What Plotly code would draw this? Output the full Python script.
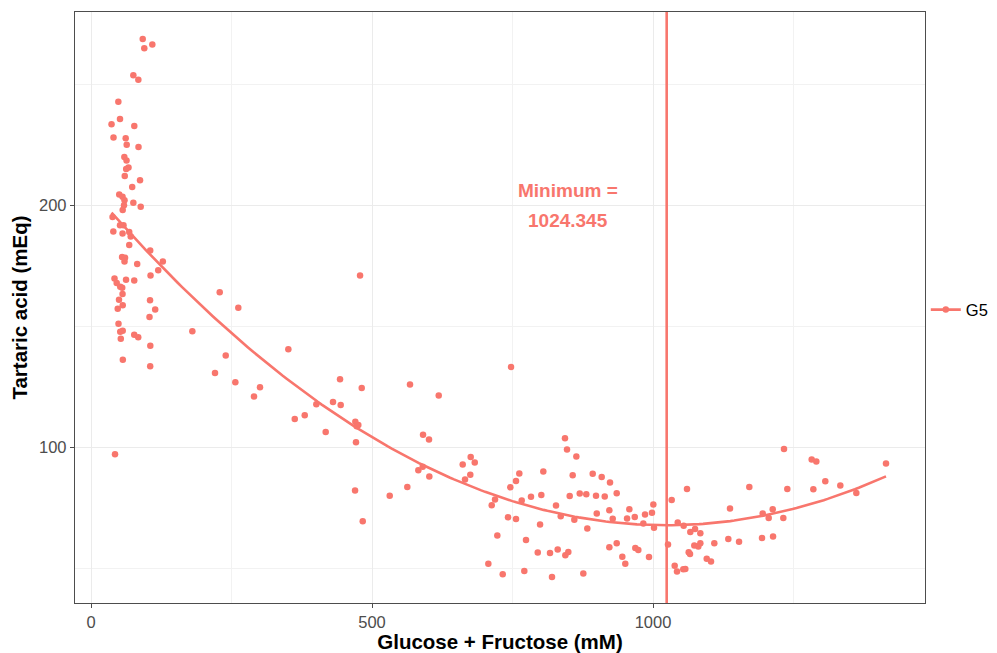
import numpy as np
import plotly.graph_objects as go

# sugar (glucose + fructose, mM) vs tartaric acid (mEq), group G5
sugar = [
    92.0, 109.1, 94.8, 75.3, 84.2, 48.6, 51.6, 36.5, 77.0, 40.0,
    61.7, 63.5, 84.5, 59.3, 63.2, 66.7, 62.6, 60.0, 87.2, 73.3,
    50.2, 56.1, 59.6, 75.3, 88.4, 58.7, 56.4, 38.3, 51.6, 57.8,
    39.7, 56.1, 68.0, 70.6, 68.0, 105.3, 55.2, 60.5, 59.6, 82.2,
    127.8, 119.6, 105.9, 41.8, 62.3, 76.9, 45.7, 52.0, 55.5, 56.1,
    49.8, 105.0, 56.4, 47.5, 114.2, 104.1, 48.9, 56.4, 52.0, 76.9,
    84.0, 53.0, 105.5, 56.6, 105.3, 180.3, 220.6, 42.7,
    229.0, 262.1, 478.7, 239.7, 256.8, 300.7, 290.0, 351.1, 362.5, 380.3,
    400.9, 417.6, 430.6, 443.1, 444.3, 481.7, 470.3, 475.6, 472.8, 471.5,
    469.8, 483.5, 567.6, 618.7, 590.8, 601.4, 531.5, 562.8, 582.4, 590.2,
    602.0, 661.4, 675.6, 682.8, 665.5, 674.9, 713.0, 718.9,
    747.3, 707.0, 723.0, 732.6, 742.0, 746.1, 756.2, 762.1, 756.2, 766.4,
    771.0, 774.0, 782.9, 794.9, 799.0, 801.3, 804.8, 816.7, 820.3, 827.4,
    830.4, 835.8, 843.4, 847.0, 844.0, 849.3, 851.8, 857.1, 860.0, 863.6,
    869.6, 876.0, 881.3, 883.1, 892.7, 898.6, 899.9, 908.7, 914.1, 922.3,
    922.3, 923.5, 928.3, 935.4, 935.4, 945.4, 950.7, 953.8, 957.9, 967.5,
    968.5, 973.9, 982.8, 985.8, 992.9, 998.2, 1000.6, 1001.8, 1026.7, 1033.3,
    1038.6, 1042.7, 1044.0, 1053.9, 1057.5, 1054.6, 1060.5, 1066.4, 1074.8, 1084.2,
    1063.5, 1065.9, 1073.5, 1080.6, 1084.2, 1095.6, 1103.2, 1109.1, 1134.0, 1137.0,
    1153.1, 1171.4, 1194.0, 1213.6, 1195.2, 1205.9, 1213.0, 1231.9, 1233.1, 1239.0,
    1282.4, 1290.6, 1285.3, 1306.6, 1333.3, 1361.8, 1414.6,
]
tartaric = [
    268.7, 266.5, 264.9, 253.8, 251.9, 242.8, 235.7, 233.5, 232.8, 228.0,
    227.7, 225.0, 224.1, 220.0, 218.5, 215.6, 215.0, 212.1, 210.3, 207.6,
    204.5, 203.5, 202.1, 201.0, 199.4, 200.0, 198.1, 195.2, 191.7, 191.7,
    189.2, 188.3, 189.0, 187.1, 183.6, 181.3, 178.6, 178.3, 176.8, 175.7,
    176.8, 173.1, 171.0, 169.7, 169.2, 168.9, 167.9, 166.3, 165.9, 163.3,
    161.0, 160.7, 158.7, 157.2, 156.9, 153.8, 151.0, 148.1, 147.7, 146.5,
    145.5, 144.8, 141.9, 136.2, 133.5, 147.9, 130.7, 97.1,
    164.1, 157.6, 171.0, 137.9, 126.9, 124.8, 121.0, 140.5, 111.7, 113.2,
    117.8, 106.3, 118.7, 128.1, 117.4, 124.5, 110.5, 109.2, 108.7, 102.0,
    82.1, 69.4, 125.9, 121.4, 105.1, 103.2, 79.9, 83.6, 90.5, 91.9,
    87.9, 92.9, 95.9, 93.7, 86.7, 88.6, 76.0, 78.4,
    133.2, 51.8, 63.5, 47.5, 71.0, 83.4, 86.0, 89.1, 70.3, 78.0,
    48.8, 61.6, 79.5, 56.5, 68.1, 80.2, 90.0, 56.3, 46.3, 75.9,
    57.7, 71.5, 103.7, 99.1, 55.3, 56.7, 79.8, 88.4, 70.0, 96.2,
    80.9, 47.8, 80.6, 66.4, 89.0, 79.9, 72.6, 87.7, 79.6, 58.6,
    73.9, 85.4, 70.4, 81.0, 60.3, 54.7, 51.8, 70.5, 74.4, 71.2,
    58.3, 57.5, 68.5, 72.2, 54.6, 72.9, 76.3, 66.7, 59.8, 78.2,
    51.0, 48.6, 68.9, 49.6, 49.7, 67.5, 82.7, 65.0, 66.2, 64.4,
    56.6, 55.9, 59.4, 59.0, 60.3, 53.9, 52.8, 60.3, 62.1, 74.7,
    60.9, 83.6, 62.5, 63.1, 72.6, 70.7, 74.4, 70.7, 99.3, 82.7,
    94.9, 94.1, 82.6, 85.9, 84.2, 81.1, 93.3,
]
group = 'G5'
minimum_x = 1024.345

red = '#F8766D'
font = 'Liberation Sans, Arial, sans-serif'

# quadratic fit, as in geom_smooth(method = lm, formula = y ~ poly(x, 2))
coef = np.polyfit(sugar, tartaric, 2)
fit_x = np.linspace(min(sugar), max(sugar), 200)
fit_y = np.polyval(coef, fit_x)

fig = go.Figure()
fig.add_trace(go.Scatter(
    x=sugar, y=tartaric, mode='markers',
    marker={'color': red, 'size': 6.5},
    showlegend=False, hoverinfo='skip'
))
fig.add_trace(go.Scatter(
    x=fit_x, y=fit_y, mode='lines',
    line={'color': red, 'width': 2.6},
    showlegend=False
))
# legend key only
fig.add_trace(go.Scatter(
    x=[None], y=[None], mode='lines+markers', name=group,
    line={'color': red, 'width': 2.6},
    marker={'color': red, 'size': 6.5}
))

fig.add_vline(x=minimum_x, line_color=red, line_width=2.6)
for text, ypos in [('Minimum =', 206.2), ('%.3f' % minimum_x, 193.8)]:
    fig.add_annotation(
        x=849, y=ypos, xref='x', yref='y',
        text='<b>' + text + '</b>',
        showarrow=False,
        font={'family': font, 'size': 19, 'color': red},
    )

axis_common = {
    'showline': True, 'mirror': True, 'linecolor': '#4D4D4D', 'linewidth': 1.3,
    'showgrid': True, 'gridcolor': '#EBEBEB', 'gridwidth': 1,
    'zeroline': False, 'automargin': False,
    'ticks': 'outside', 'ticklen': 4, 'tickcolor': '#4D4D4D', 'tickwidth': 1,
    'tickfont': {'family': font, 'size': 16.5, 'color': '#4D4D4D'},
}

# page body adds an 8 px offset, so the figure is a little smaller than the window
fig['layout'].update({
    'width': 989,
    'height': 645,
    'plot_bgcolor': 'white',
    'paper_bgcolor': 'white',
    'margin': {'l': 67, 'r': 72, 't': 4, 'b': 50},
    'font': {'family': font},
    'xaxis': dict(axis_common, **{
        'title': {'text': '<b>Glucose + Fructose (mM)</b>', 'standoff': 4,
                  'font': {'family': font, 'size': 20.5, 'color': 'black'}},
        'range': [-28.5, 1484],
        'tickvals': [0, 500, 1000],
        'minor': {'tickvals': [250, 750, 1250], 'showgrid': True,
                  'gridcolor': '#F2F2F2', 'gridwidth': 1, 'ticks': ''},
    }),
    'yaxis': dict(axis_common, **{
        'title': {'text': '<b>Tartaric acid (mEq)</b>', 'standoff': 8,
                  'font': {'family': font, 'size': 20.5, 'color': 'black'}},
        'range': [35.6, 279.9],
        'tickvals': [100, 200],
        'minor': {'tickvals': [50, 150, 250], 'showgrid': True,
                  'gridcolor': '#F2F2F2', 'gridwidth': 1, 'ticks': ''},
    }),
    'legend': {
        'xref': 'container', 'yref': 'container',
        'x': 0.928, 'y': 0.532, 'xanchor': 'left', 'yanchor': 'middle',
        'font': {'family': font, 'size': 16.5, 'color': 'black'},
        'itemwidth': 30, 'bgcolor': 'rgba(0,0,0,0)',
    },
})

fig.write_html('out.html')
